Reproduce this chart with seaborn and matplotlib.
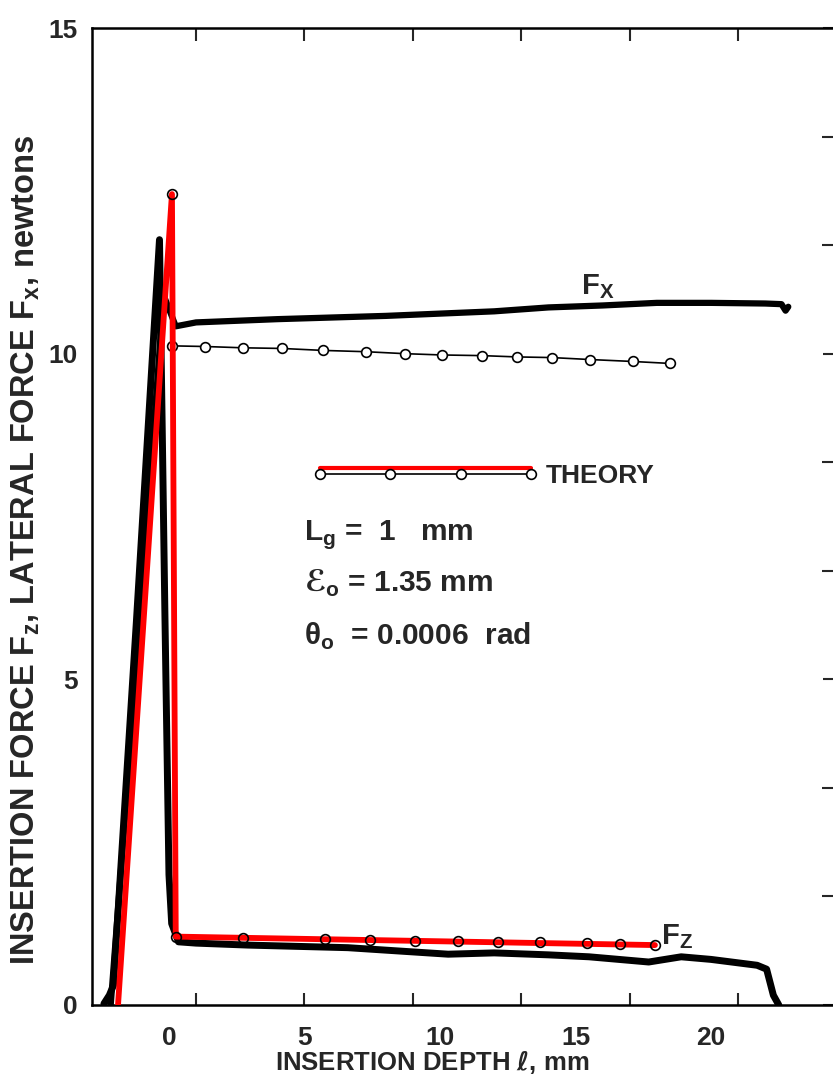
import numpy as np
import pandas as pd
import matplotlib
matplotlib.use("Agg")
import matplotlib.pyplot as plt
import matplotlib.patheffects as pe
from matplotlib.legend_handler import HandlerTuple
from matplotlib.ticker import FixedLocator
import seaborn as sns

# measured traces (insertion depth mm, force N)
fx_exp_x = [-2.15, -1.2, -0.2, 0.25, 1.0, 4.0, 8.0, 12.0, 14.0, 16.0, 18.0, 20.0, 22.0, 22.6, 22.75, 22.85]
fx_exp_y = [0.0, 5.2, 10.9, 10.42, 10.48, 10.53, 10.58, 10.65, 10.71, 10.74, 10.78, 10.78, 10.77, 10.76, 10.66, 10.72]

fz_exp_x = [-2.4, -2.2, -2.05, -1.2, -0.35, -0.15, 0.0, 0.1, 0.35, 1.0, 2.9, 6.6, 10.3, 12.0, 14.0, 15.5, 17.7, 18.9, 20.0, 21.7, 22.05, 22.3, 22.5]
fz_exp_y = [0.02, 0.15, 0.3, 5.9, 11.75, 6.0, 2.0, 1.25, 0.97, 0.95, 0.92, 0.88, 0.78, 0.8, 0.77, 0.74, 0.66, 0.74, 0.7, 0.61, 0.55, 0.15, 0.0]

# theory
fx_theory_x = [0.11, 1.33, 2.73, 4.17, 5.68, 7.27, 8.7, 10.07, 11.55, 12.84, 14.13, 15.53, 17.12, 18.49]
fx_theory_y = [10.12, 10.11, 10.09, 10.08, 10.05, 10.03, 10.0, 9.98, 9.97, 9.95, 9.94, 9.91, 9.88, 9.85]

fz_theory_x = [0.11, 0.25, 2.73, 5.76, 7.42, 9.08, 10.66, 12.14, 13.69, 15.42, 16.64, 17.93]
fz_theory_y = [12.45, 1.05, 1.03, 1.01, 1.0, 0.99, 0.98, 0.97, 0.96, 0.95, 0.94, 0.92]

red_x = [-1.88, 0.11, 0.25, 17.93]
red_y = [0.0, 12.45, 1.05, 0.92]

sns.set_style("white")
plt.rcParams['font.family'] = ['Liberation Sans', 'DejaVu Sans']
plt.rcParams['font.weight'] = 'bold'
plt.rcParams['mathtext.fontset'] = 'dejavusans'

fig = plt.figure(figsize=(8.33, 10.82), dpi=100)
ax = fig.add_axes([92 / 833, 1 - 1005 / 1082, 741 / 833, 977 / 1082])

fx_df = pd.DataFrame({"x": fx_exp_x, "y": fx_exp_y})
fz_df = pd.DataFrame({"x": fz_exp_x, "y": fz_exp_y})
sns.lineplot(data=fx_df, x="x", y="y", sort=False, estimator=None, color="black", lw=4.5, ax=ax)
sns.lineplot(data=fz_df, x="x", y="y", sort=False, estimator=None, color="black", lw=5, ax=ax)

mk = dict(marker="o", markersize=7, markerfacecolor="white", markeredgecolor="black", markeredgewidth=1.2)
th_fx, = ax.plot(fx_theory_x, fx_theory_y, color="black", lw=1.2, **mk)
red_line, = ax.plot(red_x, red_y, color="#ff0000", lw=4.2, solid_joinstyle="round", zorder=4)
ax.plot(fz_theory_x, fz_theory_y, ls="none", marker="o", markersize=7, markerfacecolor="none",
        markeredgecolor="black", markeredgewidth=1.2, zorder=5)

leg = ax.legend(handles=[(red_line, th_fx)], labels=["THEORY"], handler_map={tuple: HandlerTuple(ndivide=1)},
                loc="center left", bbox_to_anchor=(0.297, 0.541), frameon=False, numpoints=4,
                handlelength=8.6, handletextpad=0.25, borderpad=0, borderaxespad=0,
                prop={"size": 19, "weight": "bold"})
# red sample sits just above the circle line, as in the original
red_sample = leg.get_lines()[0]
red_sample.set_linewidth(3.0)
red_sample.set_path_effects([pe.Stroke(offset=(0, 4.5))])

ax.text(15.2, 10.92, r"F$_\mathregular{X}$", fontsize=21)
ax.text(18.15, 0.93, r"F$_\mathregular{Z}$", fontsize=21)
ax.text(5.0, 7.14, r"L$_\mathregular{g}$ =  1   mm", fontsize=21.5)
ax.text(5.0, 6.34, r"$ℰ_\mathregular{o}$ = 1.35 mm", fontsize=21.5)
ax.text(5.0, 5.53, r"θ$_\mathregular{o}$  = 0.0006  rad", fontsize=21.5)

ax.set_xlim(-2.84, 24.5)
ax.set_ylim(0, 15)
ax.set_xticks([0, 5, 10, 15, 20])
ax.set_yticks([0, 5, 10, 15])
ax.xaxis.set_minor_locator(FixedLocator([1, 5, 9, 13, 17, 21]))
ax.yaxis.set_minor_locator(FixedLocator([5 / 3, 10 / 3, 20 / 3, 25 / 3, 35 / 3, 40 / 3]))
ax.xaxis.remove_overlapping_locs = False

for s in ["left", "bottom", "top"]:
    ax.spines[s].set_linewidth(1.8)
    ax.spines[s].set_color("black")
ax.spines["right"].set_visible(False)

ax.tick_params(axis="x", which="major", direction="out", length=10, width=1.5, top=False, labelsize=19, pad=5)
ax.tick_params(axis="x", which="minor", direction="in", length=9, width=1.5, top=True, bottom=True)
ax.tick_params(axis="y", which="major", direction="inout", length=14, width=1.5, right=True, labelsize=19, pad=3)
ax.tick_params(axis="y", which="minor", direction="in", length=8, width=1.5, right=True)

ax.set_xlabel(r"INSERTION DEPTH $\boldsymbol{\ell}$, mm", fontsize=18.5, fontweight="bold")
ax.set_ylabel(r"INSERTION FORCE F$_\mathregular{z}$, LATERAL FORCE F$_\mathregular{x}$, newtons",
              fontsize=23.5, fontweight="bold")
ax.xaxis.set_label_coords(0.459, -0.045)
ax.yaxis.set_label_coords(-0.067, 0.466)

fig.savefig("out.png", dpi=100)
